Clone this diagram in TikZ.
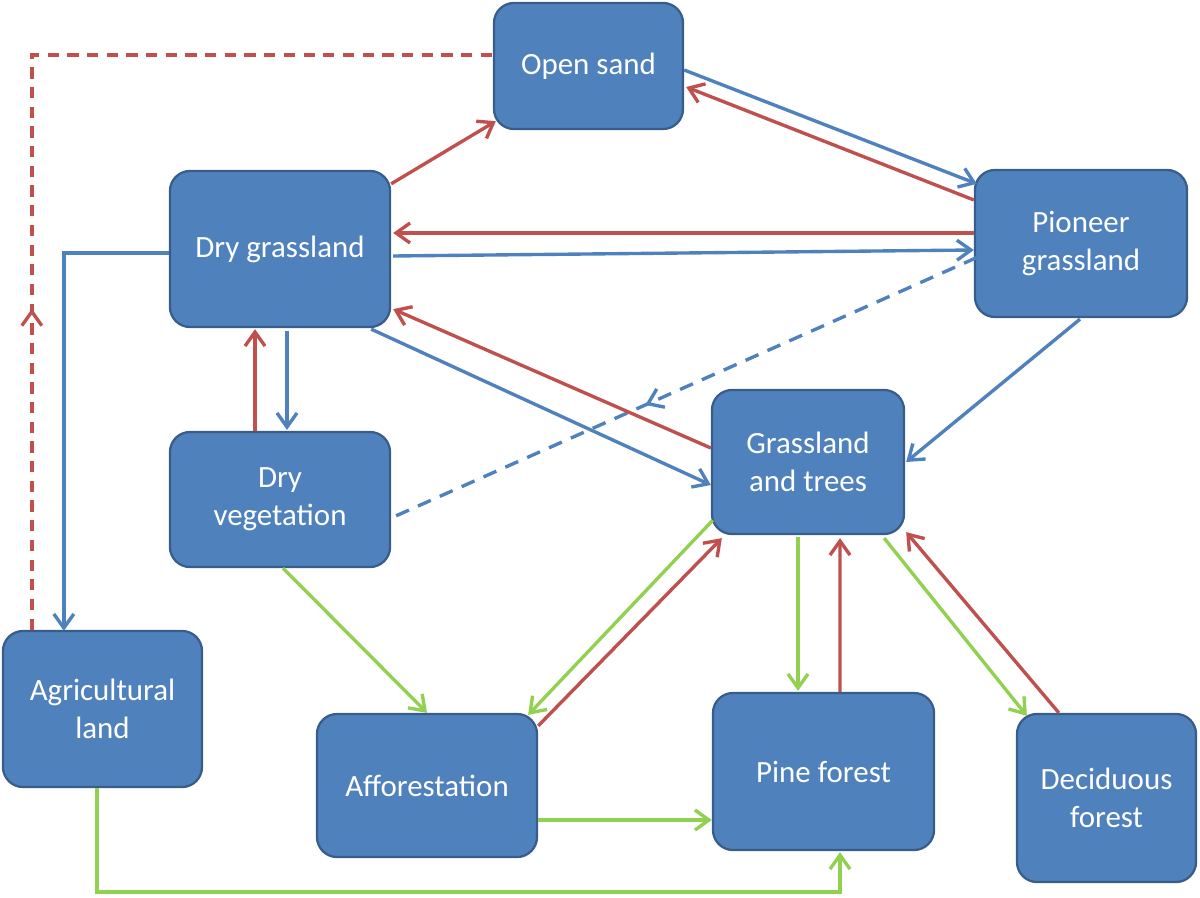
\documentclass[tikz,border=0pt]{standalone}
\usepackage{fontspec}
\setmainfont{Carlito}
\usepackage{tikz}
\usepackage{xcolor}
\usetikzlibrary{arrows.meta,calc,decorations.markings}

\definecolor{boxblue}{HTML}{4F81BD}
\definecolor{boxline}{HTML}{385D8A}
\definecolor{lossred}{HTML}{C0504D}
\definecolor{gainblue}{HTML}{4F81BD}
\definecolor{plantgreen}{HTML}{92D050}

\tikzset{
    landbox/.style={draw=boxline, fill=boxblue, line width=1.6pt, rounded corners=0.5cm,
        text=white, align=center, font=\fontsize{22}{27}\selectfont},
    flow/.style={line width=2.4pt, -{Straight Barb[length=3.5mm,width=5mm]}},
    midarrow/.style={line width=2.4pt, postaction={decorate, decoration={markings,
        mark=at position #1 with {\arrow{Straight Barb[length=3.5mm,width=5mm]}}}}}
}

\begin{document}
\begin{tikzpicture}[x=0.025cm, y=-0.025cm]
            \useasboundingbox (0,0) rectangle (1200,898);

            \node[landbox, minimum width=4.725cm, minimum height=3.15cm] (os) at (588.5,66) {Open sand};
            \node[landbox, minimum width=5.5cm, minimum height=3.9cm] (dg) at (280,249) {Dry grassland};
            \node[landbox, minimum width=5.3cm, minimum height=3.675cm] (pg) at (1081,243.5) {Pioneer\\grassland};
            \node[landbox, minimum width=5.5cm, minimum height=3.375cm] (dv) at (280,499.5) {Dry\\vegetation};
            \node[landbox, minimum width=4.8cm, minimum height=3.6cm] (gt) at (808,462) {Grassland\\and trees};
            \node[landbox, minimum width=4.975cm, minimum height=3.9cm] (al) at (102.5,709) {Agricultural\\land};
            \node[landbox, minimum width=5.5cm, minimum height=3.575cm] (af) at (427,785.5) {Afforestation};
            \node[landbox, minimum width=5.525cm, minimum height=3.925cm] (pf) at (823.5,771.5) {Pine forest};
            \node[landbox, minimum width=4.475cm, minimum height=4.2cm] (df) at (1106.5,798) {Deciduous\\forest};

            \draw[lossred, midarrow=0.31, dash pattern=on 8pt off 6pt]
                ($(al.north west)+(30,0)$) |- ($(os.west)+(0,-11)$);
            \draw[gainblue, midarrow=0.566, dash pattern=on 10pt off 7pt]
                ($(pg.west)+(3,14)$) -- ($(dv.east)+(0,18.5)$);

            \draw[flow, gainblue] ($(os.east)+(0,4)$) -- ($(pg.north west)+(3,15)$);
            \draw[flow, lossred] ($(pg.west)+(0,-43.5)$) -- ($(os.east)+(2,21)$);
            \draw[flow, lossred] ($(dg.north east)+(0,14)$) -- ($(os.south west)+(3,-9)$);
            \draw[flow, lossred] ($(pg.west)+(0,-10.5)$) -- ($(dg.east)+(2,-16)$);
            \draw[flow, gainblue] ($(dg.east)+(2,7)$) -- ($(pg.west)+(0,6.5)$);
            \draw[flow, gainblue] ($(dg.west)+(0,4)$) -| ($(al.north west)+(62,1)$);
            \draw[flow, lossred] ($(dv.north)+(-25,0)$) -- ($(dg.south)+(-25,1)$);
            \draw[flow, gainblue] ($(dg.south)+(7,3)$) -- ($(dv.north)+(7,-1)$);
            \draw[flow, gainblue] ($(dg.south east)+(-20,1)$) -- ($(gt.west)+(0,23)$);
            \draw[flow, lossred] ($(gt.west)+(0,-14)$) -- ($(dg.south east)+(2,-19)$);
            \draw[flow, gainblue] ($(pg.south)+(-1,1)$) -- ($(gt.east)+(1,0)$);

            \draw[flow, plantgreen] ($(dv.south)+(3,0)$) -- (af.north);
            \draw[flow, plantgreen] ($(gt.south west)+(2,-15)$) -- ($(af.north east)+(-10,2)$);
            \draw[flow, lossred] ($(af.north east)+(0,13)$) -- ($(gt.south west)+(11,3)$);
            \draw[flow, plantgreen] ($(gt.south)+(-10,2)$) -- ($(pf.north)+(-25.5,-1)$);
            \draw[flow, lossred] ($(pf.north)+(16.5,0)$) -- ($(gt.south)+(32,3)$);
            \draw[flow, plantgreen] ($(gt.south east)+(-21,3)$) -- ($(df.north west)+(11,3)$);
            \draw[flow, lossred] ($(df.north west)+(43,0)$) -- ($(gt.south east)+(1,-3)$);
            \draw[flow, plantgreen] ($(af.east)+(0,34.5)$) -- ($(pf.west)+(0,48.5)$);
            \draw[flow, plantgreen] ($(al.south)+(-5.5,0)$) -- ++(0,104) -| ($(pf.south)+(16.5,1)$);
        \end{tikzpicture}
\end{document}
